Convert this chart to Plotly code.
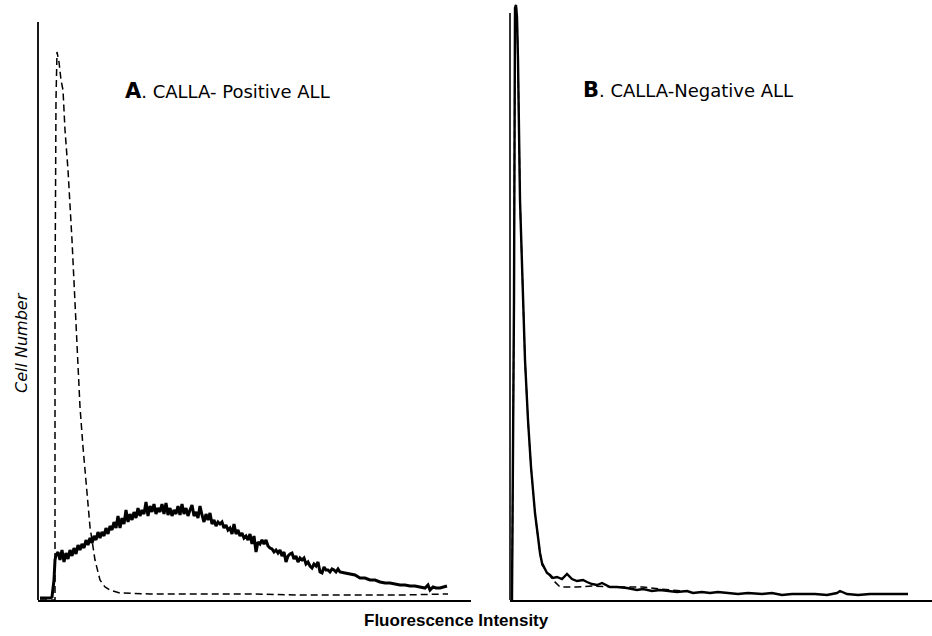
import plotly.graph_objects as go

# Panel A: CALLA-positive ALL (x = fluorescence channel, y = cell number, arbitrary units)
a_solid_x = [1, 6, 11, 13, 15, 16, 17, 19, 21, 23, 25, 27, 29, 31, 33, 35, 37, 39, 41, 43, 45, 47, 49,
             51, 53, 55, 57, 59, 61, 63, 65, 67, 69, 71, 73, 75, 77, 79, 81, 83, 85, 87, 89, 91, 93,
             95, 97, 99, 101, 103, 105, 107, 109, 111, 113, 115, 117, 119, 121, 123, 125, 127, 129,
             131, 133, 135, 137, 139, 141, 143, 145, 147, 149, 151, 153, 155, 157, 159, 161, 163, 165,
             167, 169, 171, 173, 175, 177, 179, 181, 183, 185, 187, 189, 191, 193, 195, 197, 199, 201,
             203, 205, 207, 209, 211, 213, 215, 217, 219, 221, 223, 225, 227, 229, 231, 233, 235, 237,
             239, 241, 243, 245, 247, 249, 251, 253, 255, 257, 259, 261, 263, 265, 267, 269, 271, 273,
             275, 277, 279, 281, 283, 285, 287, 289, 291, 293, 295, 297, 299, 301, 306, 311, 316, 321,
             326, 331, 336, 341, 346, 351, 356, 361, 366, 371, 376, 381, 386, 389, 391, 394, 397, 401,
             404, 408]
a_solid_y = [2, 2, 2, 3, 20, 40, 45, 48, 40, 50, 38, 47, 41, 50, 44, 52, 46, 55, 50, 56, 52, 60, 55,
             62, 57, 64, 60, 68, 62, 68, 64, 72, 66, 74, 70, 78, 72, 84, 72, 82, 76, 90, 78, 86, 80,
             88, 82, 92, 84, 90, 86, 98, 84, 94, 88, 96, 86, 92, 88, 96, 86, 97, 85, 92, 84, 90, 86,
             94, 85, 96, 86, 92, 84, 90, 95, 84, 88, 82, 94, 85, 78, 86, 80, 87, 76, 80, 74, 78, 76,
             78, 72, 75, 70, 72, 66, 76, 66, 70, 64, 67, 62, 64, 60, 66, 56, 64, 48, 58, 56, 60, 56,
             60, 54, 52, 51, 48, 50, 47, 50, 44, 48, 38, 44, 46, 47, 41, 44, 38, 42, 40, 42, 36, 38,
             34, 32, 36, 34, 38, 28, 27, 33, 30, 30, 28, 31, 30, 28, 31, 28, 27, 26, 25, 22, 22, 20,
             20, 18, 17, 17, 16, 15, 15, 14, 14, 13, 12, 15, 10, 13, 12, 12, 13, 14]

a_dash_x = [1, 10, 16, 16, 17, 18, 20, 22, 24, 26, 29, 33, 35, 37, 41, 44, 48, 51, 56, 61, 66, 71,
            81, 111, 161, 211, 261, 311, 361, 409]
a_dash_y = [0, 0, 0, 300, 500, 548, 538, 520, 510, 470, 430, 360, 320, 280, 193, 153, 107, 73, 40,
            20, 13, 10, 7, 6, 6, 6, 5, 5, 5, 6]

# Panel B: CALLA-negative ALL
b_solid_x = [0, 2, 3, 4, 5, 6, 8, 11, 13, 16, 19, 23, 26, 28, 30, 33, 35, 38, 41, 45, 50, 55, 60,
             65, 71, 75, 80, 85, 90, 98, 105, 115, 125, 131, 140, 148, 156, 165, 175, 181, 190,
             198, 206, 218, 226, 236, 250, 260, 270, 280, 290, 303, 315, 325, 328, 335, 346, 358,
             370, 382, 396]
b_solid_y = [0, 300, 592, 595, 583, 540, 400, 300, 240, 180, 133, 87, 60, 47, 37, 30, 27, 25, 22,
             23, 21, 26, 21, 19, 20, 18, 16, 15, 17, 13, 13, 12, 10, 11, 9, 10, 9, 8, 9, 7, 8, 7,
             8, 7, 6, 7, 6, 7, 5, 6, 6, 6, 5, 7, 9, 6, 5, 6, 6, 6, 6]

b_dash_x = [0, 2, 3, 4, 5, 6, 8, 11, 13, 16, 19, 23, 26, 28, 30, 35, 41, 48, 55, 65, 81, 98, 115,
            131, 148, 170]
b_dash_y = [0, 300, 592, 595, 583, 540, 400, 300, 240, 180, 133, 87, 60, 47, 35, 28, 20, 13, 13,
            13, 14, 13, 13, 13, 11, 9]

fig = go.Figure()

solid_a = dict(color="black", width=3)
solid_b = dict(color="black", width=2.4)
dashed = dict(color="black", width=1.5, dash="7px,4px")

fig.add_trace(go.Scatter(x=a_dash_x, y=a_dash_y, mode="lines", line=dashed,
                         xaxis="x", yaxis="y", showlegend=False))
fig.add_trace(go.Scatter(x=a_solid_x, y=a_solid_y, mode="lines", line=solid_a,
                         xaxis="x", yaxis="y", showlegend=False))
fig.add_trace(go.Scatter(x=b_dash_x, y=b_dash_y, mode="lines", line=dashed,
                         xaxis="x2", yaxis="y2", showlegend=False))
fig.add_trace(go.Scatter(x=b_solid_x, y=b_solid_y, mode="lines", line=solid_b,
                         xaxis="x2", yaxis="y2", showlegend=False))

W, H = 932, 636
ax_common = dict(showgrid=False, zeroline=False, showticklabels=False, ticks="",
                 showline=True, linecolor="black", linewidth=1.8)
fig.update_layout(
    width=W, height=H,
    margin=dict(l=0, r=0, t=0, b=36),
    paper_bgcolor="white", plot_bgcolor="white",
    font=dict(family="DejaVu Sans", color="black"),
    xaxis=dict(domain=[38 / W, 471 / W], range=[-1, 432], **ax_common),
    yaxis=dict(domain=[0, 1], range=[0, 600], showgrid=False, zeroline=False,
               showticklabels=False, ticks="", showline=False),
    xaxis2=dict(domain=[510 / W, 1], range=[-2, 420], anchor="y2", **ax_common),
    yaxis2=dict(domain=[0, 1], range=[0, 600], anchor="x2", showgrid=False, zeroline=False,
                showticklabels=False, ticks="", showline=False),
)

# y-axis lines (shorter than the plotting area, as in the original)
fig.add_shape(type="line", xref="x domain", yref="y", x0=0, x1=0, y0=0, y1=578,
              line=dict(color="black", width=1.8))
fig.add_shape(type="line", xref="x2 domain", yref="y2", x0=0, x1=0, y0=0, y1=587,
              line=dict(color="black", width=1.6))

fig.add_annotation(text="<span style='font-size:21px'><b>A</b></span>. CALLA- Positive ALL",
                   xref="paper", yref="paper",
                   x=123 / W, y=(600 - 91) / 600, xanchor="left", yanchor="middle",
                   showarrow=False, font=dict(size=18))
fig.add_annotation(text="<span style='font-size:21px'><b>B</b></span>. CALLA-Negative ALL",
                   xref="paper", yref="paper",
                   x=581 / W, y=(600 - 90) / 600, xanchor="left", yanchor="middle",
                   showarrow=False, font=dict(size=18))
fig.add_annotation(text="<i>Cell Number</i>", xref="paper", yref="paper",
                   x=21 / W, y=(600 - 343) / 600, textangle=-90, xanchor="center",
                   yanchor="middle", showarrow=False, font=dict(size=16))
fig.add_annotation(text="<b>Fluorescence Intensity</b>", xref="paper", yref="paper",
                   x=456 / W, y=(600 - 620) / 600, xanchor="center", yanchor="middle",
                   showarrow=False, font=dict(size=17, family="Liberation Sans"))

fig.write_html("out.html", config={"displayModeBar": False},
               post_script="document.body.style.margin='0';"
               "document.body.style.overflow='hidden';")
